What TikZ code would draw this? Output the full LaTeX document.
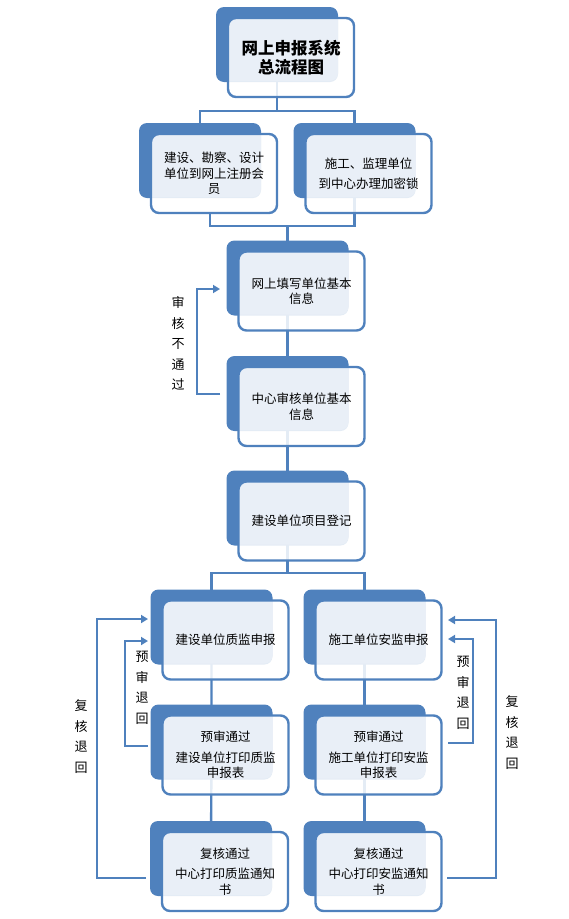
\documentclass[tikz,border=0pt]{standalone}
\usepackage{fontspec}
\newfontfamily\cjk{Noto Sans CJK SC}
\usetikzlibrary{arrows.meta,calc,backgrounds}
\definecolor{boxblue}{RGB}{79,129,189}
\definecolor{boxlight}{RGB}{233,239,247}

% one step of the flow: dark back card and light front card
\newcommand{\flowbox}[4][]{%
  \node[backbox] (#2bg) at ($(#3)+(-14,-13)$) {};
  \node[frontbox, #1] (#2) at (#3) {#4};
}

\begin{document}
\begin{tikzpicture}[ x=1pt, y=-1pt, >=Stealth,
    frontbox/.style={rounded corners=8pt, draw=boxblue, line width=2.4pt,
      fill=white, fill opacity=0.85, text opacity=1, minimum width=126pt,
      minimum height=79pt, inner sep=0pt, align=center,
      font=\cjk\fontsize{12.5}{15.5}\selectfont,
      path picture={\fill[boxlight, fill opacity=1, rounded corners=8pt]
        ($(path picture bounding box.north west)+(-20pt,20pt)$) rectangle
        ($(path picture bounding box.south east)+(-16pt,16pt)$);}},
    titlefont/.style={font=\cjk\bfseries\fontsize{16.5}{19.5}\selectfont},
    backbox/.style={rounded corners=8pt, fill=boxblue, minimum width=122pt,
      minimum height=75pt, inner sep=0pt},
    link/.style={draw=boxblue, line width=2.4pt},
    retline/.style={draw=boxblue, line width=2pt,
      -{Triangle[length=7pt,width=8pt]}},
    sidetext/.style={font=\cjk\fontsize{13}{20.5}\selectfont, align=center,
      inner sep=0pt} ]

  \useasboundingbox (0,0) rectangle (569,919);

  % Boxes
  \flowbox[titlefont]{b1}{291,57.5}{网上申报系统\\总流程图}
  \flowbox{b2a}{214,173.5}{建设、勘察、设计\\单位到网上注册会\\员}
  \flowbox{b2b}{368.5,173.5}{施工、监理单位\\[5pt]到中心办理加密锁}
  \flowbox{b3}{301.5,291}{网上填写单位基本\\信息}
  \flowbox{b4}{301.5,406.5}{中心审核单位基本\\信息}
  \flowbox{b5}{301.5,521}{建设单位项目登记}
  \flowbox{b6a}{225.5,640}{建设单位质监申报}
  \flowbox{b6b}{378.5,640}{施工单位安监申报}
  \flowbox{b7a}{225.5,755}{预审通过\\[5pt]建设单位打印质监\\申报表}
  \flowbox{b7b}{378.5,755}{预审通过\\[5pt]施工单位打印安监\\申报表}
  \flowbox{b8a}{225,871.5}{复核通过\\[5pt]中心打印质监通知\\书}
  \flowbox{b8b}{378.5,871.5}{复核通过\\[5pt]中心打印安监通知\\书}

  % Connectors
  \begin{scope}[on background layer]
    \coordinate (j1) at (277,111);
    \coordinate (j2) at (287.5,226);
    \coordinate (j3) at (287.5,573);
    \coordinate (b2aout) at (210,212);
    \draw[link] (b1bg.center) -- (j1);
    \draw[link] (b2abg.center) |- (j1) -| (b2bbg.center);
    \draw[link] (b2aout) |- (j2) -| (b2bbg.center);
    \draw[link] (j2) -- (b3bg.center) -- (b4bg.center) -- (b5bg.center)
      -- (j3);
    \draw[link] (b6abg.center) |- (j3) -| (b6bbg.center);
    \draw[link] (b6abg.center) -- (b7abg.center) -- (b8abg.center);
    \draw[link] (b6bbg.center) -- (b7bbg.center) -- (b8bbg.center);
  \end{scope}

  % Return loops
  \coordinate (a1s) at (220,394); \coordinate (a1e) at (220,289);
  \draw[retline] (a1s) -- ++(-23,0) |- (a1e);
  \coordinate (c1s) at (146,878); \coordinate (c1e) at (148,619);
  \draw[retline] (c1s) -- ++(-49,0) |- (c1e);
  \coordinate (c2s) at (148,746); \coordinate (c2e) at (148,641);
  \draw[retline] (c2s) -- ++(-23,0) |- (c2e);
  \coordinate (c3s) at (447,878); \coordinate (c3e) at (448,620);
  \draw[retline] (c3s) -- ++(49,0) |- (c3e);
  \coordinate (c4s) at (448,743); \coordinate (c4e) at (448,639);
  \draw[retline] (c4s) -- ++(25,0) |- (c4e);

  % Labels
  \node[sidetext] (l1) at (178,343.5) {审\\核\\不\\通\\过};
  \node[sidetext] (l2) at (142,688) {预\\审\\退\\回};
  \node[sidetext] (l3) at (81,736.5) {复\\核\\退\\回};
  \node[sidetext] (l4) at (463,693) {预\\审\\退\\回};
  \node[sidetext] (l5) at (512,732.5) {复\\核\\退\\回};
\end{tikzpicture}
\end{document}
